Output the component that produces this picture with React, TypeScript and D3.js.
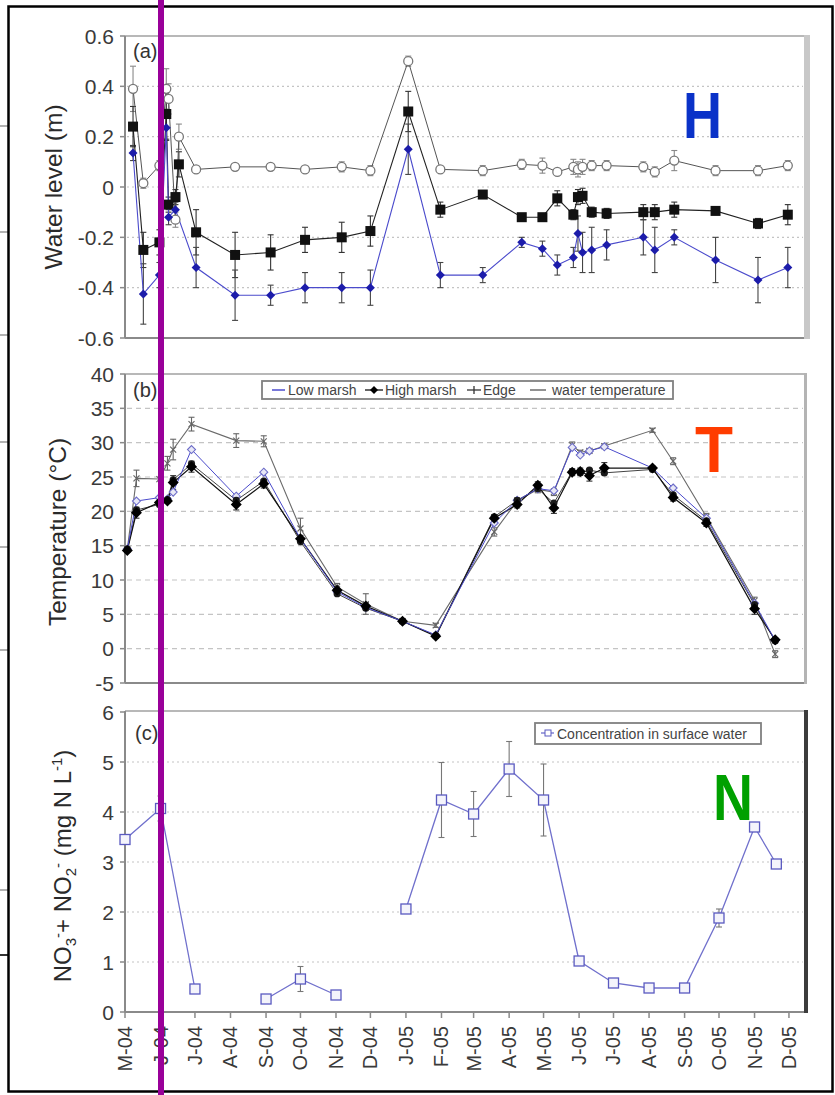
import React from 'react';
import * as d3 from 'd3';

const W = 835;
const H = 1095;
const parse = d3.timeParse('%Y-%m-%d');

// Month tick labels along the shared time axis
const monthLabels = ['M-04', 'J-04', 'J-04', 'A-04', 'S-04', 'O-04', 'N-04', 'D-04', 'J-05', 'F-05', 'M-05', 'A-05', 'M-05', 'J-05', 'J-05', 'A-05', 'S-05', 'O-05', 'N-05', 'D-05'];

// (a) Water level (m)
const levelDates = ['2004-05-08', '2004-05-17', '2004-05-31', '2004-06-06', '2004-06-08', '2004-06-14', '2004-06-17', '2004-07-02', '2004-08-05', '2004-09-05', '2004-10-05', '2004-11-06', '2004-12-01', '2005-01-03', '2005-01-31', '2005-03-09', '2005-04-12', '2005-04-30', '2005-05-13', '2005-05-27', '2005-05-31', '2005-06-04', '2005-06-12', '2005-06-25', '2005-07-27', '2005-08-06', '2005-08-23', '2005-09-28', '2005-11-04', '2005-11-30'];
const levelEdge = [0.39, 0.015, 0.085, 0.39, 0.35, -0.13, 0.2, 0.07, 0.08, 0.08, 0.07, 0.08, 0.065, 0.5, 0.07, 0.065, 0.09, 0.085, 0.06, 0.08, 0.07, 0.08, 0.085, 0.085, 0.08, 0.06, 0.105, 0.065, 0.065, 0.085];
const levelEdgeErr = [0.09, 0.02, 0.02, 0.08, 0.06, 0.03, 0.05, 0.01, 0.01, 0.01, 0.01, 0.02, 0.02, 0.02, 0.01, 0.02, 0.02, 0.03, 0.01, 0.03, 0.03, 0.03, 0.02, 0.02, 0.02, 0.02, 0.04, 0.02, 0.02, 0.02];
const levelHigh = [0.24, -0.25, -0.22, 0.29, -0.07, -0.04, 0.09, -0.18, -0.27, -0.26, -0.21, -0.2, -0.175, 0.3, -0.09, -0.03, -0.12, -0.12, -0.045, -0.11, -0.04, -0.035, -0.1, -0.105, -0.1, -0.1, -0.09, -0.095, -0.145, -0.11];
const levelHighErr = [0.08, 0.07, 0.05, 0.1, 0.03, 0.03, 0.05, 0.09, 0.09, 0.07, 0.05, 0.06, 0.06, 0.08, 0.03, 0.01, 0.01, 0.01, 0.03, 0.02, 0.03, 0.03, 0.02, 0.02, 0.03, 0.03, 0.03, 0.01, 0.02, 0.04];
const levelLow = [0.135, -0.425, -0.35, 0.235, -0.12, -0.09, null, -0.32, -0.43, -0.43, -0.4, -0.4, -0.4, 0.15, -0.35, -0.35, -0.22, -0.245, -0.31, -0.28, -0.185, -0.26, -0.25, -0.23, -0.2, -0.25, -0.2, -0.29, -0.37, -0.32];
const levelLowErr = [0.03, 0.12, 0.05, 0.05, 0.03, 0.03, 0, 0.08, 0.1, 0.04, 0.06, 0.06, 0.07, 0.1, 0.05, 0.03, 0.02, 0.03, 0.04, 0.04, 0.07, 0.08, 0.09, 0.06, 0.07, 0.09, 0.03, 0.09, 0.09, 0.08];

// (b) Temperature (°C)
const tempDates = ['2004-05-03', '2004-05-11', '2004-05-31', '2004-06-07', '2004-06-12', '2004-06-28', '2004-08-06', '2004-08-30', '2004-10-01', '2004-11-02', '2004-11-27', '2004-12-29', '2005-01-27', '2005-03-19', '2005-04-08', '2005-04-26', '2005-05-10', '2005-05-26', '2005-06-02', '2005-06-10', '2005-06-23', '2005-08-04', '2005-08-22', '2005-09-20', '2005-11-01', '2005-11-19'];
const tempWater = [14.5, 24.8, 24.7, 27.0, 29.0, 32.7, 30.3, 30.2, 17.5, 9.0, 6.5, 4.0, 3.4, 17.0, 21.5, 23.2, 22.8, 29.6, 28.6, 28.8, 29.5, 31.8, 27.3, 19.2, 7.0, -0.8];
const tempWaterErr = [0, 1.2, 0, 1.0, 1.5, 1.0, 1.0, 0.8, 1.5, 0.5, 1.5, 0.3, 0.3, 0.6, 0.5, 0.5, 0.5, 0.5, 0.3, 0.3, 0.3, 0.3, 0.5, 0.5, 0.5, 0.5];
const tempLow = [14.5, 21.5, 22.0, 21.8, 22.8, 29.0, 22.2, 25.7, 16.0, 8.3, 6.0, 4.0, 2.0, 18.3, 21.6, 23.3, 23.0, 29.3, 28.2, 28.8, 29.4, 26.3, 23.4, 19.0, 6.6, 1.2];
const tempHigh = [14.3, 19.8, 21.3, 21.5, 24.2, 26.5, 21.0, 24.0, 16.0, 8.5, 6.2, 4.0, 1.8, 19.0, 21.0, 23.8, 20.5, 25.7, 25.8, 25.2, 26.3, 26.3, 22.0, 18.3, 5.8, 1.3];
const tempHighErr = [0.3, 0.8, 0.3, 0.3, 1.0, 0.8, 0.8, 0.6, 0.5, 0.5, 0.5, 0.3, 0.3, 0.5, 0.5, 0.5, 0.8, 0.5, 0.5, 0.8, 0.8, 0.3, 0.5, 0.5, 0.8, 0.3];
const tempEdge = [14.5, 20.2, 21.0, 21.7, 24.6, 26.9, 21.6, 24.4, 15.6, 8.0, 5.9, 4.0, 1.9, 19.2, 21.6, 23.3, 21.2, 25.8, 25.6, 26.0, 25.6, 26.1, 22.4, 18.6, 6.4, 1.1];

// (c) NO3- + NO2- in surface water (mg N L-1); null = not sampled
const nitDates = ['2004-05-01', '2004-06-01', '2004-07-01', '2004-08-01', '2004-09-01', '2004-10-01', '2004-11-01', '2004-12-01', '2005-01-01', '2005-02-01', '2005-03-01', '2005-04-01', '2005-05-01', '2005-06-01', '2005-07-01', '2005-08-01', '2005-09-01', '2005-10-01', '2005-11-01', '2005-11-20'];
const nitValues = [3.45, 4.07, 0.46, null, 0.26, 0.66, 0.34, null, 2.06, 4.24, 3.96, 4.86, 4.24, 1.02, 0.58, 0.48, 0.48, 1.88, 3.7, 2.96];
const nitErr = [0.08, 0.25, 0, 0, 0, 0.25, 0.05, 0, 0.08, 0.75, 0.45, 0.55, 0.72, 0.05, 0.03, 0.03, 0.03, 0.18, 0.05, 0];

const FONT = 'Liberation Sans, Arial, Helvetica, sans-serif';
const X0 = 125;
const X1 = 805;

type Pt = { d: Date; v: number; e: number };

function series(dates: string[], vals: (number | null)[], errs?: number[]): Pt[] {
  const out: Pt[] = [];
  dates.forEach((s, i) => {
    const v = vals[i];
    if (v !== null && v !== undefined) out.push({ d: parse(s) as Date, v, e: errs ? errs[i] || 0 : 0 });
  });
  return out;
}

function ErrorBars({ pts, x, y, color = '#555', cap = 3 }: any) {
  return (
    <g stroke={color} strokeWidth={1.1}>
      {pts.filter((p: Pt) => p.e > 0).map((p: Pt, i: number) => {
        const cx = x(p.d);
        const y1 = y(p.v - p.e);
        const y2 = y(p.v + p.e);
        return (
          <g key={i}>
            <line x1={cx} x2={cx} y1={y1} y2={y2} />
            <line x1={cx - cap} x2={cx + cap} y1={y1} y2={y1} />
            <line x1={cx - cap} x2={cx + cap} y1={y2} y2={y2} />
          </g>
        );
      })}
    </g>
  );
}

function YAxis({ y, ticks, fmt, grid, dash }: any) {
  return (
    <g>
      {ticks.map((t: number, i: number) => (
        <g key={i}>
          {grid && t !== y.domain()[0] && t !== y.domain()[1] && (
            <line x1={X0 + 2} x2={X1 - 2} y1={y(t)} y2={y(t)} stroke="#c4c4c4" strokeWidth={1.2} strokeDasharray={dash} />
          )}
          <line x1={X0 - 5} x2={X0} y1={y(t)} y2={y(t)} stroke="#8a8a8a" strokeWidth={1.5} />
          <text x={114} y={y(t)} dy="0.36em" textAnchor="end" fontSize={21} fill="#3a3a3a" fontFamily={FONT}>
            {fmt(t)}
          </text>
        </g>
      ))}
    </g>
  );
}

function diamond(cx: number, cy: number, r: number) {
  return `M${cx},${cy - r}L${cx + r},${cy}L${cx},${cy + r}L${cx - r},${cy}Z`;
}

export default function App() {
  const x = d3.scaleTime().domain([new Date(2004, 4, 1), new Date(2005, 11, 15)]).range([X0, X1]);
  const yA = d3.scaleLinear().domain([-0.6, 0.6]).range([338, 36]);
  const yB = d3.scaleLinear().domain([-5, 40]).range([683, 374]);
  const yC = d3.scaleLinear().domain([0, 6]).range([1012, 712]);

  const months = d3.timeMonth.range(new Date(2004, 4, 1), new Date(2005, 11, 2));

  // panel (a)
  const aEdge = series(levelDates, levelEdge, levelEdgeErr);
  const aHigh = series(levelDates, levelHigh, levelHighErr);
  const aLow = series(levelDates, levelLow, levelLowErr);
  const lineA = d3.line<Pt>().x((p) => x(p.d)).y((p) => yA(p.v));

  // panel (b)
  const bWater = series(tempDates, tempWater, tempWaterErr);
  const bLow = series(tempDates, tempLow);
  const bHigh = series(tempDates, tempHigh, tempHighErr);
  const bEdge = series(tempDates, tempEdge);
  const lineB = d3.line<Pt>().x((p) => x(p.d)).y((p) => yB(p.v));

  // panel (c): keep gaps where no sample was taken
  const cAll = nitDates.map((s, i) => ({ d: parse(s) as Date, v: nitValues[i] as number | null, e: nitErr[i] }));
  const cPts = cAll.filter((p) => p.v !== null) as Pt[];
  const lineC = d3
    .line<{ d: Date; v: number | null }>()
    .defined((p) => p.v !== null)
    .x((p) => x(p.d))
    .y((p) => yC(p.v as number));

  const fmtA = (v: number) => (v === 0 ? '0' : v.toFixed(1));
  const fmtInt = (v: number) => String(v);

  const panelFrame = (top: number, bottom: number, rightColor: string, rightW: number, key: string) => (
    <g key={key}>
      <line x1={X0} x2={X1} y1={top} y2={top} stroke="#a0a0a0" strokeWidth={1.6} />
      <line x1={X0} x2={X1} y1={bottom} y2={bottom} stroke="#8a8a8a" strokeWidth={2} />
      <line x1={X0} x2={X0} y1={top} y2={bottom} stroke="#8a8a8a" strokeWidth={2} />
      <rect x={X1 - 1} y={top - 1} width={rightW} height={bottom - top + 2} fill={rightColor} />
    </g>
  );

  const blue = '#1c1caa';
  const blueLine = '#4b4bcc';

  return (
    <svg width={W} height={H} style={{ position: 'absolute', left: 0, top: 0, background: '#fff' }} fontFamily={FONT}>
      <rect width={W} height={H} fill="#fff" />

      {/* stray rule marks at the far left edge */}
      {[126, 232, 335, 442, 547, 650, 890].map((yy, i) => (
        <line key={i} x1={0} x2={8} y1={yy} y2={yy} stroke="#999" strokeWidth={1.5} />
      ))}
      <line x1={0} x2={8} y1={955} y2={955} stroke="#333" strokeWidth={2} />

      {/* ---------- (a) water level ---------- */}
      <YAxis y={yA} ticks={yA.ticks(6)} fmt={fmtA} grid dash="2,3" />
      {panelFrame(36, 338, '#c8c8c8', 6, 'fa')}
      <text x={133} y={58} fontSize={20} fill="#333">(a)</text>
      <text transform="translate(62,187) rotate(-90)" textAnchor="middle" fontSize={24.5} fill="#2a2a2a">
        Water level (m)
      </text>

      <ErrorBars pts={aEdge} x={x} y={yA} color="#888" />
      <ErrorBars pts={aHigh} x={x} y={yA} color="#333" />
      <ErrorBars pts={aLow} x={x} y={yA} color="#444" />

      <path d={lineA(aEdge) || ''} fill="none" stroke="#555" strokeWidth={1} />
      <path d={lineA(aHigh) || ''} fill="none" stroke="#222" strokeWidth={1.1} />
      <path d={lineA(aLow) || ''} fill="none" stroke={blueLine} strokeWidth={1.1} />

      {aEdge.map((p, i) => (
        <circle key={'ae' + i} cx={x(p.d)} cy={yA(p.v)} r={4.5} fill="#fff" stroke="#777" strokeWidth={1.3} />
      ))}
      {aHigh.map((p, i) => (
        <rect key={'ah' + i} x={x(p.d) - 5} y={yA(p.v) - 5} width={10} height={10} fill="#111" />
      ))}
      {aLow.map((p, i) => (
        <path key={'al' + i} d={diamond(x(p.d), yA(p.v), 4.5)} fill={blue} />
      ))}

      <text x={683} y={138} fontSize={64} fontWeight="bold" fill="#0a32c8" textLength={39} lengthAdjust="spacingAndGlyphs">
        H
      </text>

      {/* ---------- (b) temperature ---------- */}
      <YAxis y={yB} ticks={yB.ticks(9)} fmt={fmtInt} grid dash="5,4" />
      {panelFrame(374, 683, '#b4b4b4', 3, 'fb')}
      <text x={133} y={397} fontSize={20} fill="#333">(b)</text>
      <text transform="translate(66,532) rotate(-90)" textAnchor="middle" fontSize={24.5} fill="#2a2a2a">
        Temperature (°C)
      </text>

      <ErrorBars pts={bWater} x={x} y={yB} color="#666" />
      <ErrorBars pts={bHigh} x={x} y={yB} color="#333" />

      <path d={lineB(bWater) || ''} fill="none" stroke="#6a6a6a" strokeWidth={1.1} />
      <path d={lineB(bEdge) || ''} fill="none" stroke="#444" strokeWidth={1} />
      <path d={lineB(bHigh) || ''} fill="none" stroke="#111" strokeWidth={1.2} />
      <path d={lineB(bLow) || ''} fill="none" stroke={blueLine} strokeWidth={1} />

      {bWater.map((p, i) => {
        const cx = x(p.d);
        const cy = yB(p.v);
        return (
          <g key={'bw' + i} stroke="#666" strokeWidth={1.1}>
            <line x1={cx - 3} x2={cx + 3} y1={cy - 3} y2={cy + 3} />
            <line x1={cx - 3} x2={cx + 3} y1={cy + 3} y2={cy - 3} />
          </g>
        );
      })}
      {bLow.map((p, i) => (
        <path key={'bl' + i} d={diamond(x(p.d), yB(p.v), 4)} fill="#e8e8f6" stroke="#6c6cc8" strokeWidth={1.1} />
      ))}
      {bEdge.map((p, i) => (
        <circle key={'bg' + i} cx={x(p.d)} cy={yB(p.v)} r={3.6} fill="#1a1a1a" />
      ))}
      {bHigh.map((p, i) => (
        <path key={'bh' + i} d={diamond(x(p.d), yB(p.v), 5.5)} fill="#000" />
      ))}

      {/* legend (b) */}
      <g fontSize={14} fill="#444">
        <rect x={262} y={381} width={411} height={18} fill="#fff" stroke="#808080" strokeWidth={1.8} />
        <line x1={272} x2={285} y1={390} y2={390} stroke={blueLine} strokeWidth={1.5} />
        <text x={288} y={395}>Low marsh</text>
        <line x1={365} x2={383} y1={390} y2={390} stroke="#111" strokeWidth={1.3} />
        <path d={diamond(374, 390, 4)} fill="#000" />
        <text x={385} y={395}>High marsh</text>
        <line x1={467} x2={481} y1={390} y2={390} stroke="#333" strokeWidth={1.3} />
        <line x1={474} x2={474} y1={386} y2={394} stroke="#333" strokeWidth={1.3} />
        <text x={483} y={395}>Edge</text>
        <line x1={530} x2={546} y1={390} y2={390} stroke="#555" strokeWidth={1.3} />
        <text x={552} y={395}>water temperature</text>
      </g>

      <text x={695} y={472} fontSize={64} fontWeight="bold" fill="#ff3c00" textLength={38} lengthAdjust="spacingAndGlyphs">
        T
      </text>

      {/* ---------- (c) nitrate + nitrite ---------- */}
      <YAxis y={yC} ticks={yC.ticks(6)} fmt={fmtInt} grid dash="2,3" />
      {panelFrame(711, 1012, '#3c3c3c', 4, 'fc')}
      <text x={135} y={740} fontSize={20} fill="#333">(c)</text>
      <text transform="translate(71,866) rotate(-90)" textAnchor="middle" fontSize={24} fill="#2a2a2a">
        NO
        <tspan fontSize={15} dy={5}>3</tspan>
        <tspan fontSize={15} dy={-13}>-</tspan>
        <tspan dy={8}>+ NO</tspan>
        <tspan fontSize={15} dy={5}>2</tspan>
        <tspan fontSize={15} dy={-13}>-</tspan>
        <tspan dy={8}> (mg N L</tspan>
        <tspan fontSize={15} dy={-9}>-1</tspan>
        <tspan dy={9}>)</tspan>
      </text>

      <ErrorBars pts={cPts} x={x} y={yC} color="#777" />
      <path d={lineC(cAll) || ''} fill="none" stroke="#7070cc" strokeWidth={1.3} />
      {cPts.map((p, i) => (
        <rect key={'c' + i} x={x(p.d) - 5} y={yC(p.v) - 5} width={10} height={10} fill="#f4f4fb" stroke="#5a5ac0" strokeWidth={1.3} />
      ))}

      {/* legend (c) */}
      <g fontSize={14} fill="#444">
        <rect x={535} y={723} width={226} height={21} fill="#fff" stroke="#808080" strokeWidth={1.8} />
        <line x1={541} x2={554} y1={733} y2={733} stroke="#7070cc" strokeWidth={1.3} />
        <rect x={545} y={730} width={6} height={6} fill="#fff" stroke="#5a5ac0" strokeWidth={1} />
        <text x={557} y={739}>Concentration in surface water</text>
      </g>

      <text x={713} y={820} fontSize={64} fontWeight="bold" fill="#00a000" textLength={40} lengthAdjust="spacingAndGlyphs">
        N
      </text>

      {/* shared month axis under (c) */}
      {months.map((m, i) => (
        <g key={'m' + i}>
          <line x1={x(m)} x2={x(m)} y1={1012} y2={1018} stroke="#8a8a8a" strokeWidth={1.5} />
          <text transform={`translate(${x(m) + 7},1026) rotate(-90)`} textAnchor="end" fontSize={20} fill="#3a3a3a">
            {monthLabels[i]}
          </text>
        </g>
      ))}

      {/* outer frame and marker line */}
      <rect x={8.5} y={6.5} width={824} height={1085} fill="none" stroke="#000" strokeWidth={2.5} />
      <rect x={158} y={0} width={6} height={H} fill="#990099" />
    </svg>
  );
}
